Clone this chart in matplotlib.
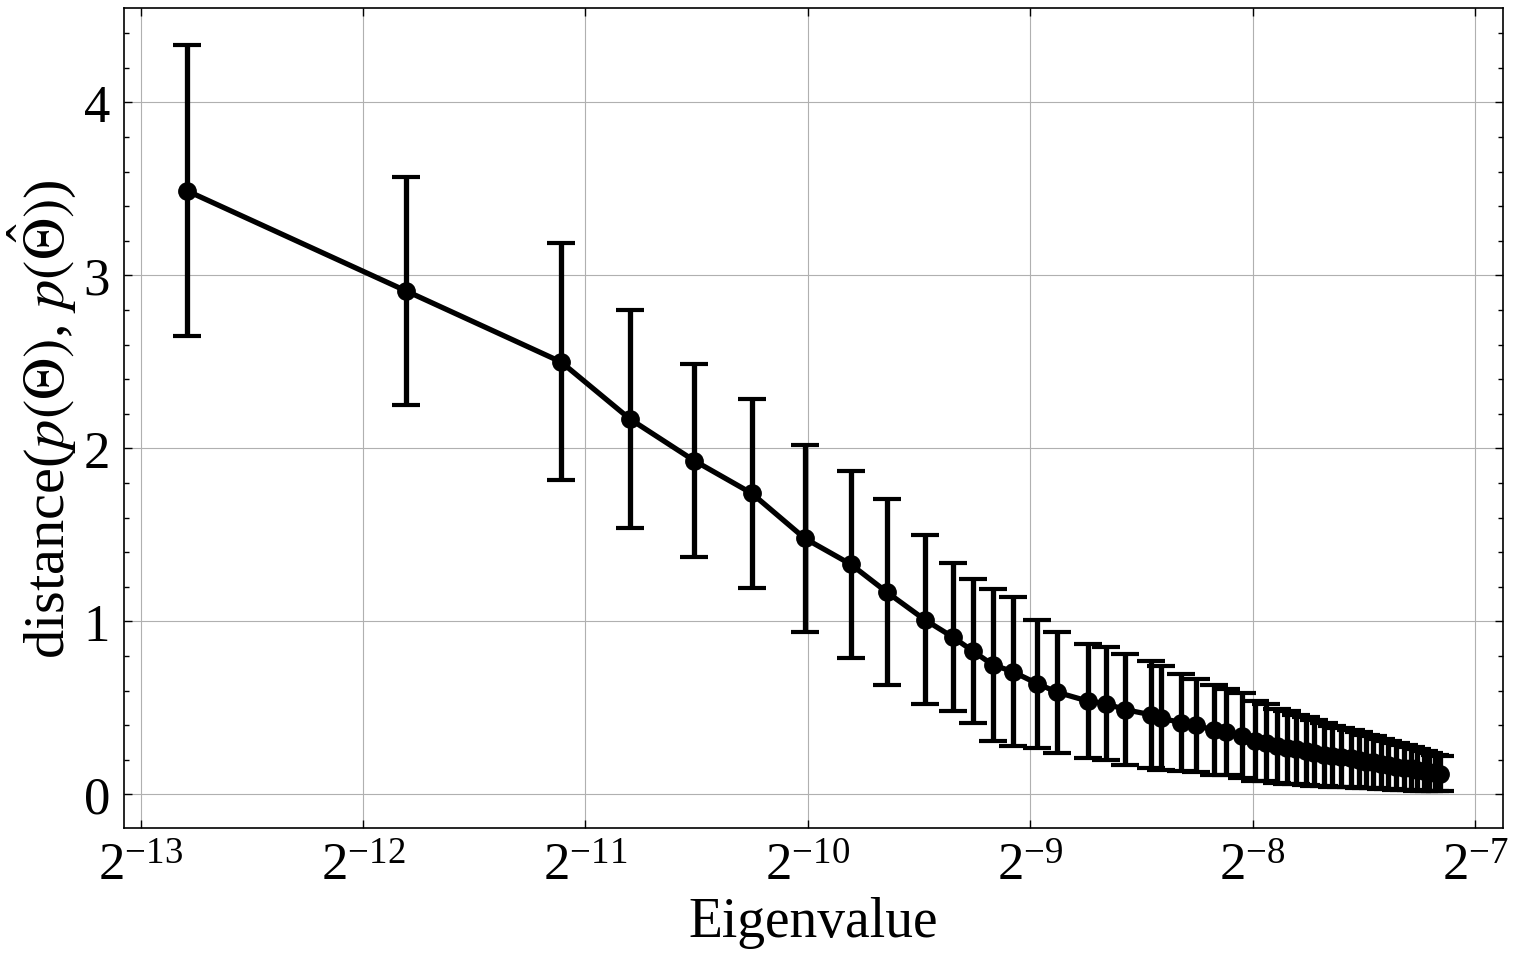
import matplotlib
matplotlib.use("Agg")
import matplotlib.pyplot as plt
from matplotlib.ticker import LogLocator, MultipleLocator, NullLocator
import numpy as np

# eigenvalues given as exponents of 2
eig_log2 = [-12.793, -11.806, -11.110, -10.800, -10.512, -10.252, -10.014, -9.807,
            -9.646, -9.475, -9.349, -9.260, -9.170, -9.080, -8.968, -8.878,
            -8.743, -8.662, -8.573, -8.456, -8.411, -8.321, -8.254, -8.173,
            -8.119, -8.047, -7.989, -7.939, -7.890, -7.845, -7.805, -7.760,
            -7.724, -7.679, -7.643, -7.603, -7.558, -7.522, -7.490, -7.459,
            -7.423, -7.392, -7.356, -7.320, -7.288, -7.261, -7.230, -7.207,
            -7.180, -7.158]
dist_mean = [3.49, 2.91, 2.50, 2.17, 1.93, 1.74, 1.48, 1.33,
             1.17, 1.01, 0.91, 0.83, 0.75, 0.71, 0.64, 0.59,
             0.54, 0.525, 0.49, 0.46, 0.44, 0.415, 0.40, 0.37,
             0.36, 0.34, 0.31, 0.30, 0.28, 0.27, 0.26, 0.25,
             0.24, 0.23, 0.22, 0.215, 0.21, 0.20, 0.19, 0.185,
             0.175, 0.17, 0.16, 0.155, 0.15, 0.14, 0.135, 0.13,
             0.125, 0.12]
dist_std = [0.84, 0.66, 0.685, 0.63, 0.56, 0.545, 0.54, 0.54,
            0.54, 0.49, 0.43, 0.415, 0.44, 0.43, 0.37, 0.35,
            0.33, 0.325, 0.32, 0.31, 0.30, 0.28, 0.27, 0.26,
            0.25, 0.245, 0.23, 0.22, 0.215, 0.21, 0.20, 0.195,
            0.19, 0.18, 0.175, 0.17, 0.165, 0.16, 0.155, 0.15,
            0.145, 0.14, 0.135, 0.13, 0.125, 0.12, 0.115, 0.11,
            0.105, 0.10]

eig = 2.0 ** np.array(eig_log2)

plt.rcParams['font.family'] = ['Liberation Serif', 'DejaVu Serif']
plt.rcParams['mathtext.fontset'] = 'stix'

fig = plt.figure(figsize=(15.21, 9.62), dpi=100)
ax = fig.add_axes([0.0815, 0.138, 0.9065, 0.8526])

ax.errorbar(eig, dist_mean, yerr=dist_std, color='black', fmt='-o',
            linewidth=3.8, markersize=12.5, elinewidth=3.8,
            capsize=10, capthick=3)

ax.set_xscale('log', base=2)
ax.xaxis.set_major_locator(LogLocator(base=2))
ax.xaxis.set_minor_locator(NullLocator())
ax.yaxis.set_major_locator(MultipleLocator(1))
ax.yaxis.set_minor_locator(MultipleLocator(0.2))

ax.grid(True, which='major', color='#b0b0b0', linewidth=0.8)
ax.tick_params(which='both', direction='in', top=True, right=True)
ax.tick_params(which='major', length=6, width=1, labelsize=38, pad=10)
ax.tick_params(which='minor', length=3.5, width=1)
for s in ax.spines.values():
    s.set_linewidth(1.2)

ax.set_xlabel('Eigenvalue', fontsize=40, labelpad=4)
ax.set_ylabel(r'distance($p(\Theta)$, $p(\hat{\Theta})$)', fontsize=42)

plt.savefig('out.png', dpi=100)
